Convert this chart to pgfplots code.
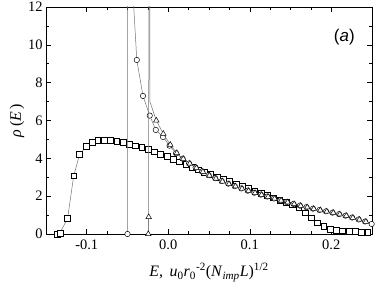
\documentclass[border=0pt]{standalone}
\usepackage{fontspec}
\setmainfont{Liberation Serif}
\newfontfamily\helv{Liberation Sans}
\usepackage{pgfplots}
\pgfplotsset{compat=1.18}
\begin{document}
\begin{tikzpicture}
\begin{axis}[
  scale only axis, width=326bp, height=227bp,
  xmin=-0.15, xmax=0.25, ymin=0, ymax=12,
  xtick={-0.1,0,0.1,0.2}, xticklabels={-0.1,0.0,0.1,0.2},
  minor x tick num=3,
  ytick={0,2,4,6,8,10,12}, minor y tick num=1,
  tick align=inside, major tick length=5bp, minor tick length=3bp,
  tick style={line width=0.5bp, black},
  axis line style={line width=0.6bp},
  tick label style={font=\fontsize{14.5}{14.5}\selectfont},
  xticklabel style={yshift=-2bp},
  /pgf/number format/assume math mode=true,
  xlabel={\textit{E},\, \textit{u}\textsubscript{0}\textit{r}\textsubscript{0}\textsuperscript{-2}(\textit{N}\textsubscript{\textit{imp}}\textit{L})\textsuperscript{1/2}},
  ylabel={\textit{ρ}\,(\textit{E}\,)},
  label style={font=\fontsize{16}{16}\selectfont},
  xlabel style={yshift=-7bp},
  ylabel style={yshift=-3bp},
  every axis plot/.append style={line width=0.5bp, color=black!55},
  clip mode=individual,
]
% squares
\addplot[mark=square*, mark size=2.9bp, mark options={draw=black, fill=white, solid, line width=0.5bp}] coordinates {
(-0.136,0) (-0.133,0.05) (-0.1235,0.83) (-0.116,3.08) (-0.1088,4.2) (-0.1007,4.62) (-0.0937,4.85)
(-0.0864,4.95) (-0.0787,4.97) (-0.071,4.95) (-0.0633,4.9) (-0.0556,4.83) (-0.0479,4.76)
(-0.0402,4.67) (-0.0325,4.57) (-0.0248,4.46) (-0.0171,4.35) (-0.0094,4.23) (-0.0017,4.1)
(0.006,3.96) (0.0137,3.82) (0.0214,3.67) (0.0291,3.53) (0.0368,3.4) (0.0445,3.27)
(0.0522,3.14) (0.0599,3.02) (0.0676,2.9) (0.0753,2.77) (0.083,2.64) (0.0907,2.52)
(0.0984,2.4) (0.1061,2.28) (0.1138,2.16) (0.1215,2.04) (0.1292,1.92) (0.1369,1.8)
(0.1446,1.68) (0.1523,1.55) (0.16,1.4) (0.1677,1.12) (0.1754,0.86) (0.1831,0.6)
(0.1908,0.42) (0.1985,0.27) (0.2062,0.2) (0.2139,0.17) (0.2216,0.15) (0.2293,0.13)
(0.237,0.11) (0.2447,0.09)
};
% circles: spike line
\addplot[mark=none] coordinates {
(-0.05,0) (-0.0499,60) (-0.045,14) (-0.0386,9.2)
};
\addplot[mark=*, mark size=2.7bp, mark options={draw=black, fill=white, solid, line width=0.5bp}] coordinates {
(-0.05,0)
};
\addplot[mark=*, mark size=2.7bp, mark options={draw=black, fill=white, solid, line width=0.5bp}] coordinates {
(-0.0386,9.2) (-0.031,7.3) (-0.0227,6.26) (-0.0153,5.5)
(-0.0064,5.13) (0.0016,4.67) (0.0096,4.27) (0.0176,3.98) (0.0256,3.73) (0.0336,3.51)
(0.0416,3.31) (0.0496,3.11) (0.0576,2.95) (0.0656,2.80) (0.0736,2.66) (0.0816,2.53)
(0.0896,2.41) (0.0976,2.29) (0.1056,2.18) (0.1136,2.08) (0.1216,1.98) (0.1296,1.88)
(0.1376,1.78) (0.1456,1.69) (0.1536,1.59) (0.1616,1.50) (0.1696,1.42) (0.1776,1.34)
(0.1856,1.27) (0.1936,1.20) (0.2016,1.13) (0.2096,1.05) (0.2176,0.97) (0.2256,0.87)
(0.2336,0.77) (0.2416,0.66) (0.2496,0.53)
};
% triangles: spike line
\addplot[mark=none] coordinates {
(-0.0245,0) (-0.024,0.9) (-0.0235,50) (-0.0225,7.0) (-0.0147,6.0)
};
\addplot[mark=triangle*, mark size=3.2bp, mark options={draw=black, fill=white, solid, line width=0.5bp}] coordinates {
(-0.0245,0) (-0.024,0.9)
};
\addplot[mark=triangle*, mark size=3.2bp, mark options={draw=black, fill=white, solid, line width=0.5bp}] coordinates {
(-0.0147,6.0) (-0.0061,5.3) (0.0025,4.72) (0.0105,4.28) (0.0185,3.97) (0.0265,3.72)
(0.0345,3.49) (0.0425,3.29) (0.0505,3.09) (0.0585,2.93) (0.0665,2.78) (0.0745,2.64)
(0.0825,2.52) (0.0905,2.40) (0.0985,2.28) (0.1065,2.17) (0.1145,2.07) (0.1225,1.97)
(0.1305,1.87) (0.1385,1.77) (0.1465,1.68) (0.1545,1.58) (0.1625,1.49) (0.1705,1.41)
(0.1785,1.33) (0.1865,1.26) (0.1945,1.19) (0.2025,1.12) (0.2105,1.04) (0.2185,0.96)
(0.2265,0.86) (0.2345,0.76) (0.2425,0.65)
};
\node[font=\helv\fontsize{17}{17}\selectfont] at (axis cs:0.216,10.4) {(\textit{a})};
\end{axis}
\pgfresetboundingbox
\path (current axis.south west) ++(-46bp,-52bp) coordinate (bbA);
\path (current axis.north east) ++(5bp,7bp) coordinate (bbB);
\useasboundingbox (bbA) rectangle (bbB);
\end{tikzpicture}
\end{document}
